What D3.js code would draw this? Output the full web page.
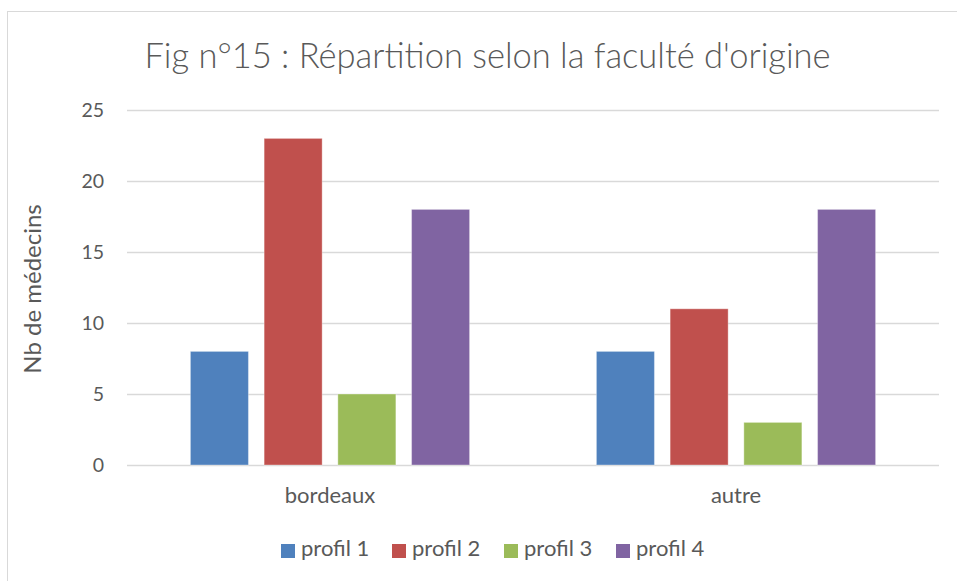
<!DOCTYPE html>
<html>
<head>
<meta charset="utf-8">
<script src="https://cdn.jsdelivr.net/npm/d3@7"></script>
<style>
  body { margin: 0; background: #fff; }
  text { font-family: Lato, "Open Sans", sans-serif; fill: #595959; }
</style>
</head>
<body>
<div id="chart"></div>
<script>
var categories = ["bordeaux", "autre"]
var seriesNames = ["profil 1", "profil 2", "profil 3", "profil 4"]
var profil1 = [8, 8]
var profil2 = [23, 11]
var profil3 = [5, 3]
var profil4 = [18, 18]
var yTicks = [0, 5, 10, 15, 20, 25]
var colors = ["#4F81BD", "#C0504D", "#9BBB59", "#8064A2"]

var W = 957, H = 581
var plot = {left: 127, right: 939, top: 110, bottom: 465}

var svg = d3.select("#chart").append("svg").attr("width", W).attr("height", H)

// chart frame
svg.append("rect").attr("x", 7.5).attr("y", 11.5).attr("width", W + 10).attr("height", H + 10)
    .attr("fill", "none").attr("stroke", "#D9D9D9")

var x0 = d3.scaleBand().domain(categories).range([plot.left, plot.right])
var x1 = d3.scaleBand().domain(seriesNames).range([0, x0.bandwidth()]).paddingInner(0.213).paddingOuter(0.86)
var y = d3.scaleLinear().domain([0, 25]).range([plot.bottom, plot.top])

// gridlines
svg.selectAll(".grid").data(yTicks).enter().append("line")
    .attr("class", "grid")
    .attr("x1", plot.left).attr("x2", plot.right)
    .attr("y1", function(d){ return y(d) + 0.5 }).attr("y2", function(d){ return y(d) + 0.5 })
    .attr("stroke", "#D9D9D9").attr("stroke-width", 1.3)

// y axis labels
var yAxis = svg.append("g").attr("transform", "translate(" + (plot.left - 23) + ",0)")
    .call(d3.axisLeft(y).tickValues(yTicks).tickSize(0).tickPadding(0))
yAxis.attr("font-size", 19.5).attr("font-family", "Lato, 'Open Sans', sans-serif")
yAxis.select(".domain").remove()
yAxis.selectAll("text").attr("fill", "#595959")

// x axis labels
var xAxis = svg.append("g").attr("transform", "translate(0," + plot.bottom + ")")
    .call(d3.axisBottom(x0).tickSize(0).tickPadding(0))
xAxis.attr("font-size", 22).attr("font-family", "Lato, 'Open Sans', sans-serif")
xAxis.select(".domain").remove()
xAxis.selectAll("text").attr("fill", "#595959").attr("dy", null).attr("y", 38)

var series = [profil1, profil2, profil3, profil4]
var rows = []
categories.forEach(function(c, i){
    seriesNames.forEach(function(s, j){
        rows.push({cat: c, name: s, value: series[j][i], color: colors[j]})
    })
})

svg.selectAll(".bar").data(rows).enter().append("rect")
    .attr("class", "bar")
    .attr("x", function(d){ return x0(d.cat) + x1(d.name) })
    .attr("width", x1.bandwidth())
    .attr("y", function(d){ return y(d.value) })
    .attr("height", function(d){ return y(0) - y(d.value) })
    .attr("fill", function(d){ return d.color })
    .attr("stroke", "rgba(255,255,255,0.35)").attr("stroke-width", 1)

// title (light weight, like the original)
svg.append("text").attr("x", 487.5).attr("y", 68).attr("text-anchor", "middle")
    .style("font-size", "34.5px").style("font-weight", 300)
    .text("Fig n°15 : Répartition selon la faculté d'origine")

// y axis title
svg.append("text").attr("transform", "translate(41,289) rotate(-90)").attr("text-anchor", "middle")
    .style("font-size", "24px").text("Nb de médecins")

// legend
var legendX = [281, 392, 504, 616]
var legend = svg.selectAll(".legend").data(seriesNames).enter().append("g")
    .attr("class", "legend")
    .attr("transform", function(d, i){ return "translate(" + legendX[i] + ",544)" })
legend.append("rect").attr("width", 14).attr("height", 14).attr("fill", function(d, i){ return colors[i] })
legend.append("text").attr("x", 20).attr("y", 12).style("font-size", "22px").text(function(d){ return d })
</script>
</body>
</html>
